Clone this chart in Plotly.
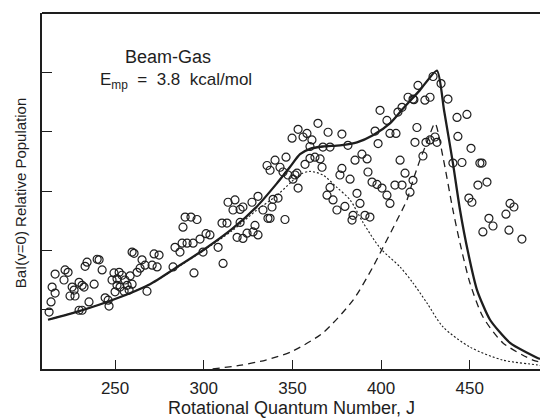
import plotly.graph_objects as go

# Observed rotational populations (J, relative population)
J_obs = [212.8, 213.9, 214.5, 216.2, 216.2, 221.2, 221.8, 223.5, 224.6, 225.8, 226.9, 227.4, 229.7, 229.7,
         231.4, 231.4, 232.5, 233.1, 234.2, 235.3, 238.2, 239.9, 241.0, 242.7, 244.4, 246.1, 246.6, 248.3,
         249.4, 250.0, 251.1, 251.1, 252.3, 252.8, 253.9, 255.1, 255.6, 256.8, 257.9, 258.5, 259.6, 260.7,
         259.6, 262.4, 264.1, 265.2, 266.9, 268.0, 270.9, 272.0, 273.7, 274.8,
         282.7, 283.8, 286.6, 287.8, 288.3, 289.5, 292.8, 296.2, 290.6, 294.0, 294.5, 297.9, 299.6, 301.3,
         303.5, 308.1, 310.3, 313.1, 310.9, 313.7, 317.6, 316.5, 320.5, 322.1, 318.8, 322.1, 324.4, 327.8,
         330.6, 328.9, 320.5, 327.2, 330.6, 333.4, 336.2, 338.5, 339.1, 341.9, 335.7, 337.4, 340.2, 346.4,
         343.0, 344.7, 345.8, 347.5, 350.3, 353.2, 353.2, 349.8, 352.6, 337.4,
         364.4, 356.0, 358.2, 361.0, 370.1, 377.9, 359.9, 367.2, 371.2, 381.3, 362.7, 365.6, 359.9, 357.1,
         366.7, 351.5, 385.3, 389.2, 392.1, 392.6, 377.9, 376.8, 382.5, 394.9, 397.7, 400.5, 403.3, 405.0,
         371.2, 369.5, 372.9, 386.4, 388.1, 399.4, 403.3, 409.5, 396.6, 398.3, 405.0, 408.4, 411.8, 415.2,
         418.5, 420.8, 410.7, 407.8, 411.8, 413.5, 418.0, 416.3, 419.1, 420.2, 375.1, 379.6, 383.6, 384.2,
         390.9, 393.7,
         429.3, 418.0, 424.7, 427.6, 433.8, 437.7, 442.8, 448.4, 425.3, 427.6, 430.4, 431.5, 423.6, 443.3,
         450.7, 440.5, 445.6, 455.7, 456.9, 454.6, 459.7, 449.5, 451.2, 472.7, 474.9, 470.4, 460.8, 463.1,
         457.4, 472.1, 479.4]
pop_obs = [0.96, 1.13, 1.38, 1.60, 1.28, 1.50, 1.67, 1.63, 1.23, 1.38, 1.33, 1.23, 1.46, 0.99,
           1.41, 0.99, 1.38, 1.73, 1.80, 1.13, 1.43, 1.85, 1.84, 1.67, 1.20, 1.16, 1.06, 1.50,
           1.62, 1.30, 1.52, 1.41, 1.63, 1.38, 1.58, 1.31, 1.50, 1.41, 1.33, 1.57, 1.97, 1.95,
           1.43, 1.63, 1.70, 1.84, 1.75, 1.31, 1.75, 1.94, 1.72, 1.92,
           1.72, 2.05, 1.97, 2.12, 2.39, 2.56, 2.56, 2.52, 2.12, 2.12, 1.62, 2.19, 1.97, 2.28,
           2.26, 2.05, 2.46, 2.46, 1.78, 2.81, 2.85, 2.68, 2.69, 2.73, 2.22, 2.20, 2.29, 2.31,
           2.26, 2.42, 2.47, 2.81, 2.91, 2.68, 2.54, 2.73, 2.86, 2.88, 3.43, 3.35, 3.52, 3.57,
           3.40, 3.32, 2.52, 3.27, 3.20, 3.05, 4.04, 3.89, 3.30, 2.54,
           4.14, 3.91, 3.97, 3.86, 3.99, 3.96, 3.75, 3.74, 3.74, 3.77, 3.57, 3.54, 3.55, 3.45,
           3.40, 3.27, 3.52, 3.62, 3.54, 3.32, 3.38, 3.27, 3.20, 3.15, 3.11, 3.05, 2.93, 2.79,
           3.06, 2.93, 2.85, 2.96, 2.79, 4.36, 4.19, 4.33, 4.01, 3.80, 3.97, 3.97, 4.41, 4.58,
           4.54, 4.78, 3.52, 3.10, 3.10, 3.30, 3.18, 2.98, 3.82, 4.07, 2.68, 2.74, 2.51, 2.59,
           2.59, 2.56,
           4.93, 4.55, 4.53, 4.58, 4.81, 4.55, 4.24, 4.29, 3.82, 3.86, 3.91, 3.82, 3.59, 3.92,
           3.72, 3.47, 3.48, 3.47, 3.47, 3.10, 3.15, 2.88, 2.81, 2.79, 2.73, 2.61, 2.54, 2.41,
           2.31, 2.34, 2.19]

# Total fit (solid)
J_total = [212.2, 230.3, 250.0, 269.7, 284.0, 300.0, 316.0, 330.0, 341.0, 348.5, 354.3, 359.9, 367.2,
           376.8, 386.4, 395.4, 405.0, 412.4, 421.9, 431.5, 435.5, 440.5, 444.5, 449.0, 454.1, 461.4,
           472.7, 487.9, 489.6]
pop_total = [0.83, 0.98, 1.18, 1.43, 1.70, 2.01, 2.36, 2.74, 3.12, 3.40, 3.62, 3.71, 3.75,
             3.77, 3.82, 3.94, 4.14, 4.39, 4.70, 5.03, 4.36, 3.47, 2.68, 1.97, 1.33, 0.83,
             0.44, 0.19, 0.17]

# Low-J component (dotted)
J_comp1 = [212.2, 230.3, 250.0, 269.7, 284.0, 300.0, 316.0, 330.0, 341.0, 348.6, 354.3, 359.9, 367.2,
           375.1, 382.5, 389.8, 399.4, 410.7, 418.0, 425.9, 434.9, 450.1, 468.7, 487.9, 489.6]
pop_comp1 = [0.83, 0.98, 1.18, 1.43, 1.69, 2.00, 2.33, 2.68, 2.92, 3.13, 3.28, 3.33, 3.27,
             3.06, 2.85, 2.47, 2.04, 1.72, 1.45, 1.11, 0.71, 0.37, 0.15, 0.07, 0.06]

# High-J component (dashed)
J_comp2 = [305.0, 320.0, 335.0, 350.0, 367.2, 384.2, 395.4, 401.1, 409.0, 414.6, 418.0, 421.9, 426.4,
           430.4, 434.9, 440.5, 444.5, 450.1, 457.4, 468.7, 485.6, 489.6]
pop_comp2 = [0.0, 0.06, 0.15, 0.30, 0.61, 1.16, 1.72, 2.05, 2.51, 2.85, 3.18, 3.52, 3.86,
             4.14, 3.57, 2.68, 2.12, 1.45, 0.88, 0.44, 0.15, 0.12]

x_ticks = [250, 300, 350, 400, 450]
y_ticks = [1, 2, 3, 4, 5]

INK = "#1e1e1e"
FONT = "Liberation Sans, Arial, Helvetica, sans-serif"

fig = go.Figure()
fig.add_trace(go.Scatter(x=J_obs, y=pop_obs, mode="markers",
                         marker=dict(symbol="circle-open", size=8, color=INK, line=dict(width=1.2, color=INK)),
                         showlegend=False))
fig.add_trace(go.Scatter(x=J_comp1, y=pop_comp1, mode="lines",
                         line=dict(color=INK, width=1.1, dash="2px,2px", shape="spline", smoothing=0.8),
                         showlegend=False))
fig.add_trace(go.Scatter(x=J_comp2, y=pop_comp2, mode="lines",
                         line=dict(color=INK, width=1.3, dash="7px,5px", shape="spline", smoothing=0.7),
                         showlegend=False))
fig.add_trace(go.Scatter(x=J_total, y=pop_total, mode="lines",
                         line=dict(color=INK, width=2.3, shape="spline", smoothing=0.6),
                         showlegend=False))

fig.update_layout(
    width=540, height=418,
    margin=dict(l=42, r=0, t=13, b=49),
    paper_bgcolor="white", plot_bgcolor="white",
    font=dict(family=FONT, color=INK, size=16),
    xaxis=dict(range=[208.8, 489.6], tickvals=x_ticks, ticks="inside", ticklen=9, tickwidth=1.3,
               tickcolor=INK, showline=True, linecolor=INK, linewidth=2, showgrid=False, zeroline=False,
               ticklabelstandoff=3, tickfont=dict(size=17, family=FONT, color=INK)),
    yaxis=dict(range=[0, 6], tickvals=y_ticks, ticks="inside", ticklen=10, tickwidth=1.3,
               tickcolor=INK, showline=True, linecolor=INK, linewidth=2, showgrid=False, zeroline=False,
               showticklabels=False),
    shapes=[dict(type="line", xref="paper", yref="paper", x0=0, x1=1, y0=1, y1=1,
                 line=dict(color=INK, width=2))],
    annotations=[
        dict(text="Beam-Gas", xref="paper", yref="paper", x=0.253, y=0.876, xanchor="center",
             yanchor="middle", showarrow=False, font=dict(size=18, family=FONT, color=INK)),
        dict(text="E<sub>mp</sub>  =  3.8  kcal/mol", xref="paper", yref="paper", x=0.27, y=0.81,
             xanchor="center", yanchor="middle", showarrow=False, font=dict(size=17, family=FONT, color=INK)),
        dict(text="BaI(v=0) Relative Population", xref="paper", yref="paper", x=-0.044, y=0.494,
             xanchor="center", yanchor="middle", textangle=-90, showarrow=False,
             font=dict(size=15, family=FONT, color=INK)),
        dict(text="Rotational Quantum Number, J", xref="paper", yref="paper", x=0.5, y=-0.11,
             xanchor="center", yanchor="middle", showarrow=False, font=dict(size=18, family=FONT, color=INK)),
    ],
)

fig.write_html("out.html", config={"displayModeBar": False},
               post_script="document.body.style.margin='0';")
